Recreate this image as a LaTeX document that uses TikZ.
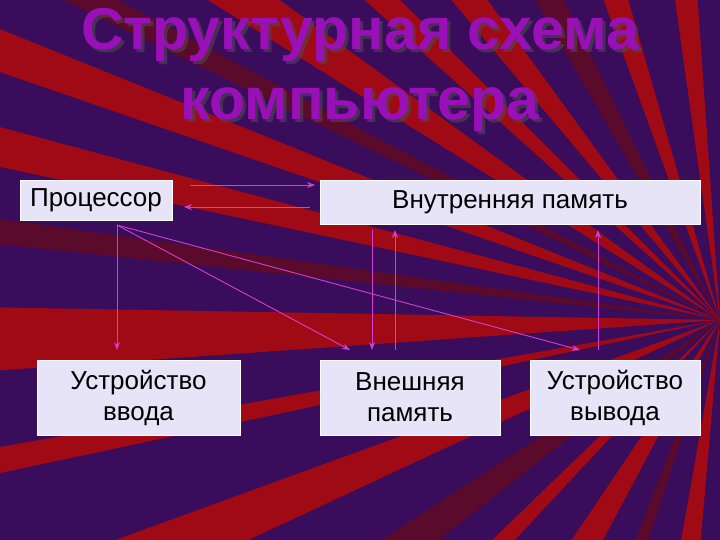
\documentclass[tikz,border=0pt]{standalone}
\usepackage{fontspec}
\setmainfont{Liberation Sans}
\usetikzlibrary{arrows.meta}
\definecolor{bgp}{HTML}{3A0C5C}
\definecolor{rayr}{HTML}{A00A14}
\definecolor{rayd}{HTML}{5A0A2A}
\definecolor{boxf}{HTML}{E8E4F8}
\definecolor{arr}{HTML}{D040D0}
\definecolor{ttl}{HTML}{9A10B8}
\tikzset{
  box/.style={draw=white, line width=0.6pt, fill=boxf, font=\fontsize{26}{31}\selectfont, align=center, text=black, inner sep=0pt},
  con/.style={draw=arr, line width=0.9pt, -{Stealth[length=8pt,width=6pt]}},
  ttlstyle/.style={font=\bfseries\fontsize{59}{70}\selectfont, align=center, text=ttl}
}
\begin{document}
\begin{tikzpicture}[x=1pt,y=-1pt]
\useasboundingbox (0,0) rectangle (720,540);
\begin{scope}
\clip (0,0) rectangle (720,540);
\fill[bgp] (0,0) rectangle (720,540);
\foreach \a/\b/\c in {95/100/rayr,108/111/rayd,118/124/rayr,133/136/rayr,142/147/rayd,155/160/rayr,168/170/rayr,176/181/rayr,186/188/rayd,192/195/rayr,199/202/rayr,206/208/rayd,212/216/rayr,222/225/rayr,230/234/rayr,240/244/rayd,250/254/rayr,262/266/rayr,275/280/rayd,290/296/rayr,310/315/rayr,80/85/rayr,60/66/rayd}{
  \fill[\c] (720,320) -- ++(\a:1500) arc[start angle=\a, end angle=\b, radius=1500] -- cycle;
}
\end{scope}
\node[ttlstyle, text=black!70, opacity=0.6] at (363,73) {Структурная схема\\компьютера};
\node[ttlstyle] at (360,70) {Структурная схема\\компьютера};
\node[box, minimum width=152, minimum height=40] (cpu) at (96,200) {Процессор};
\node[box, minimum width=380, minimum height=44] (mem) at (510,202) {Внутренняя память};
\node[box, minimum width=203, minimum height=75] (inp) at (138.5,397.5) {Устройство\\ввода};
\node[box, minimum width=180, minimum height=75] (ext) at (410,397.5) {Внешняя\\память};
\node[box, minimum width=170, minimum height=75] (out) at (615,397.5) {Устройство\\вывода};
\coordinate (s) at (117,225);
\coordinate (a1) at (190,185);
\coordinate (a2) at (315,185);
\coordinate (b1) at (310,207);
\coordinate (b2) at (184,207);
\draw[con] (a1) -- (a2);
\draw[con] (b1) -- (b2);
\draw[con] (s) -- (117,350);
\draw[con] (s) -- (350,350);
\draw[con] (s) -- (580,350);
\draw[con] (372,230) -- (372,350);
\draw[con] (395,350) -- (395,230);
\draw[con] (598,350) -- (598,230);
\end{tikzpicture}
\end{document}
